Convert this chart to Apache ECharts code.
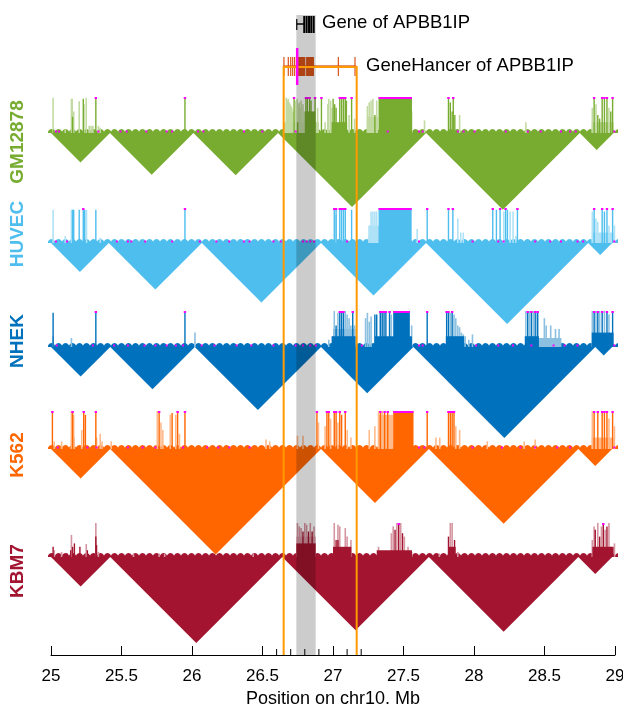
<!DOCTYPE html>
<html><head><meta charset="utf-8">
<script src="https://cdn.jsdelivr.net/npm/echarts@6.0.0/dist/echarts.min.js"></script>
<style>html,body{margin:0;padding:0;background:#fff}#c{width:623px;height:704px}</style>
</head><body><div id="c"></div>
<script>
// ---------- DATA ----------
const xTicks = [25, 25.5, 26, 26.5, 27, 27.5, 28, 28.5, 29];
const minorTicks = [26.6, 26.7, 26.8, 26.9, 27.1, 27.2];
const axisTitle = 'Position on chr10. Mb';
const trackNames = ['GM12878', 'HUVEC', 'NHEK', 'K562', 'KBM7'];
const highlightGene = [26.74, 26.877];
const geneHancerBox = [26.65, 27.168];
const geneLabel = 'Gene of APBB1IP';
const geneHancerLabel = 'GeneHancer of APBB1IP';
const geneTicks = [26.743, 26.796, 26.813, 26.830, 26.846, 26.863];
const geneIntron = [26.743, 26.796];
const ghLine = [26.647, 27.165];
const ghTicks = [26.652, 26.683, 26.700, 26.714, 26.728, 27.038, 27.156];
const ghBlocks = [[26.743, 26.804], [26.809, 26.865]];
const ghMarker = [26.746];

// TADs [start, end] in Mb
const gmTADs = [[25.0, 25.418], [25.418, 26.01], [26.01, 26.61], [26.61, 27.66], [27.66, 28.75], [28.75, 28.99]];
const hvTADs = [[25.0, 25.41], [25.41, 26.07], [26.07, 26.915], [26.915, 27.66], [27.66, 28.81], [28.81, 28.98]];
const nkTADs = [[25.0, 25.42], [25.42, 26.02], [26.02, 26.915], [26.915, 27.57], [27.57, 28.86], [28.86, 28.98]];
const k5TADs = [[25.0, 25.42], [25.42, 26.915], [26.915, 27.68], [27.68, 28.74], [28.74, 28.98]];
const kbTADs = [[25.0, 25.42], [25.42, 26.64], [26.64, 27.68], [27.68, 28.74], [28.74, 28.98]];

// signal: [position Mb, relative height 0..1 (1 = clipped)]
const gmLight = [[25.015,0.98],[25.101,0.1],[25.145,0.95],[25.150,0.95],[25.161,0.6],[25.200,0.88],[25.234,0.8],[25.250,0.98],[25.271,0.2],[25.284,0.2],[25.297,0.2],[25.336,0.2],[25.349,0.15],
 [26.669,0.98],[26.676,0.9],[26.682,0.95],[26.690,0.85],[26.695,0.8],[26.702,0.75],[26.708,0.7],[26.716,0.6],[26.735,0.9],[26.745,0.95],[26.754,0.8],[26.761,0.85],[26.768,0.7],[26.774,0.9],[26.787,0.8],[26.795,0.6],[26.891,0.7],[26.944,0.3],[26.963,0.8],[26.970,0.95],[26.983,0.9],[26.993,0.7],[27.114,0.5],[27.153,0.4],
 [27.244,0.75],[27.257,0.85],[27.270,0.9],[27.283,0.95],[27.310,0.9],[27.558,0.6],[27.649,0.35],[27.898,0.5],[28.368,0.3],
 [28.839,0.7],[28.865,0.8],[28.957,0.7]];
const gmDark = [[25.020,0.1],[25.153,0.45],[25.229,0.95],[25.318,1],[25.950,1],
 [26.724,1],[26.750,0.3],[26.808,1],[26.818,1],[26.834,1],[26.844,0.9],[26.860,0.5],[26.873,1],[26.918,1],[27.001,0.95],[27.012,0.8],[27.022,0.7],[27.048,1],[27.061,1],[27.074,1],[27.087,1],[27.095,0.9],[27.132,1],[27.297,0.5],
 [27.819,1],[27.832,0.85],[27.845,0.6],[27.853,1],[27.864,0.5],
 [28.852,1],[28.878,0.5],[28.891,0.4],[28.909,1],[28.925,1],[28.943,1],[28.970,0.6],[28.983,1]];
const gmDarkBlocks = [[26.80,26.875,0.6],[26.99,27.10,0.3],[27.323,27.56,1]];
const gmLightBlocks = [[26.651,26.90,0.3],[27.24,27.32,0.45],[28.835,28.99,0.3]];
const gmMarks = [25.035,25.056,25.336,25.493,25.537,25.676,25.820,25.859,26.042,26.081,26.369,26.499,26.735,27.388,27.610,27.636,27.885,27.926,28.004,28.225,28.382,28.473,28.617,28.682,28.721,28.995];

const hvLight = [[25.015,0.95],[25.101,0.2],[25.145,0.95],[25.252,0.95],[25.349,0.15],[27.022,0.8],[27.257,0.2],[27.270,0.9],[27.283,0.9],[27.297,0.9],[27.310,0.9],[27.597,0.4],[27.885,0.7],[27.906,0.3],[27.924,0.3],[28.211,0.9],[28.256,0.9],[28.277,0.9],[28.297,0.2],[28.839,0.9],[28.865,0.7],[28.878,0.6],[28.957,0.5],[28.996,0.5]];
const hvDark = [[25.153,0.95],[25.161,0.95],[25.200,0.95],[25.229,1],[25.239,0.95],[25.318,0.95],[25.950,1],[27.009,1],[27.022,1],[27.048,1],[27.061,1],[27.074,1],[27.087,1],[27.132,0.95],[27.668,1],[27.819,1],[27.850,1],[28.133,1],[28.159,0.95],[28.185,1],[28.224,1],[28.237,0.95],[28.308,1],[28.852,1],[28.909,1],[28.925,0.9],[28.943,1],[28.983,1]];
const hvDarkBlocks = [[27.323,27.558,1]];
const hvLightBlocks = [[27.25,27.33,0.5],[28.835,28.99,0.3]];
const hvMarks = [25.035,25.114,25.467,25.545,25.57,25.668,25.859,26.055,26.173,26.264,26.368,26.408,26.578,26.63,26.787,26.813,26.839,26.865,27.1,27.61,27.99,28.172,28.21,28.434,28.54,28.617,28.734,28.774,28.995];

const nkDark = [[25.015,0.95],[25.318,1],[25.950,1],[27.022,0.6],[27.048,1],[27.061,1],[27.074,1],[27.140,1],[27.297,0.9],[27.310,0.9],[27.336,1],[27.349,1],[27.362,1],[27.375,1],[27.401,1],[27.668,1],[27.806,1],[27.819,1],[27.845,1],[28.381,1],[28.407,1],[28.434,1],[28.452,1],[28.852,1],[28.878,1],[28.909,1],[28.943,1],[28.983,1]];
const nkLight = [[25.015,0.3],[25.145,0.25],[26.021,0.4],[26.970,0.2],[27.009,1],[27.035,0.95],[27.087,1],[27.100,0.9],[27.114,0.8],[27.127,0.6],[27.153,0.6],[27.231,0.8],[27.244,0.95],[27.257,0.7],[27.270,0.85],[27.336,1],[27.414,0.9],[27.558,0.6],[27.832,0.95],[27.858,0.9],[27.871,0.8],[27.885,0.6],[27.898,0.55],[27.911,0.4],[27.924,0.35],[27.937,0.3],[27.963,0.2],[27.989,0.35],[28.368,1],[28.394,1],[28.420,1],[28.446,1],[28.499,0.8],[28.512,0.6],[28.544,0.6],[28.578,0.5],[28.603,0.5],[28.839,1],[28.865,1],[28.891,1],[28.925,1],[28.957,0.9]];
const nkDarkBlocks = [[26.99,27.16,0.3],[27.297,27.56,0.3],[27.427,27.545,1],[27.80,27.93,0.3],[28.36,28.46,0.3],[28.835,28.99,0.4]];
const nkLightBlocks = [[27.0,27.16,0.5],[28.45,28.62,0.25]];
const nkMarks = [25.041,25.297,25.448,25.545,25.663,25.741,25.820,25.885,25.937,26.068,26.159,26.316,26.421,26.578,26.735,26.787,26.839,26.878,27.205,27.610,27.636,28.015,28.172,28.277,28.407,28.564,28.643,28.734,28.995];

const k5Dark = [[25.010,1],[25.153,1],[25.232,1],[25.244,0.9],[25.318,1],[25.767,1],[25.859,0.95],[25.898,1],[25.950,1],[26.886,1],[26.957,1],[26.970,1],[27.009,1],[27.022,1],[27.048,1],[27.061,0.9],[27.087,1],[27.336,1],[27.366,1],[27.388,1],[27.668,1],[27.819,1],[27.832,1],[27.845,1],[27.858,1],[28.852,1],[28.878,1],[28.909,1],[28.925,1],[28.943,1],[28.983,1]];
const k5Light = [[25.023,0.2],[25.075,0.2],[25.145,1],[25.161,0.9],[25.218,0.5],[25.323,0.3],[25.349,0.4],[25.362,0.2],[25.427,0.2],[25.754,1],[25.780,0.7],[25.793,0.5],[25.846,0.9],[25.885,0.9],[25.911,0.4],[26.525,0.25],[26.551,0.2],[26.748,0.35],[26.787,0.35],[26.897,0.7],[26.944,0.6],[26.983,0.8],[27.035,0.7],[27.101,0.5],[27.127,0.3],[27.257,0.5],[27.297,0.6],[27.323,1],[27.349,1],[27.362,0.9],[27.730,0.3],[27.757,0.3],[27.871,0.6],[27.898,0.5],[28.094,0.2],[28.356,0.2],[28.434,0.25],[28.839,1],[28.957,0.8],[28.996,0.6]];
const k5DarkBlocks = [[27.427,27.571,1]];
const k5LightBlocks = [[27.32,27.43,0.9],[28.835,28.99,0.3],[25.14,25.17,0.3]];
const k5Marks = [25.048,25.258,25.323,25.545,25.650,25.741,25.937,26.107,26.186,26.264,26.408,27.610,27.649,27.989,28.198,28.329,28.434,28.590,28.682,28.995];

const kbDark = [[25.015,0.3],[25.114,0.1],[25.140,0.2],[25.153,0.3],[25.166,0.4],[25.205,0.3],[25.258,0.2],[25.318,0.6],[25.323,0.35],[26.787,0.75],[26.826,0.75],[26.852,0.75],[27.022,0.5],[27.035,0.5],[27.440,0.8],[27.466,1],[27.493,0.7],[27.819,0.6],[27.862,0.5],[28.860,0.8],[28.891,0.6],[28.917,1],[28.943,0.9],[28.970,0.3]];
const kbLight = [[25.023,0.2],[25.075,0.15],[25.145,0.65],[25.250,0.38],[25.318,1],[25.336,0.15],[25.585,0.1],[25.767,0.1],[25.806,0.1],[26.434,0.1],[26.748,1],[26.761,0.9],[26.774,0.85],[26.800,1],[26.813,0.95],[26.839,1],[26.865,0.9],[27.009,1],[27.035,0.95],[27.048,0.9],[27.087,0.85],[27.100,0.6],[27.127,0.5],[27.323,0.3],[27.414,0.7],[27.427,0.9],[27.453,1],[27.480,1],[27.506,0.6],[27.532,0.3],[27.558,0.15],[27.754,0.1],[27.832,1],[27.845,1],[27.885,0.15],[28.839,0.5],[28.852,0.9],[28.878,1],[28.904,0.9],[28.930,0.8],[28.957,1],[28.996,0.4]];
const kbDarkBlocks = [[26.74,26.877,0.4],[27.0,27.13,0.3],[27.31,27.56,0.2],[27.819,27.87,0.3],[28.84,28.99,0.3]];
const kbLightBlocks = [[26.74,26.877,0.6]];
const kbMarks = [];

// ---------- LAYOUT / STYLE ----------
const COLORS = ['#77AC30', '#4DBEEE', '#0072BD', '#FF6600', '#A2142F'];
const LAYOUT = [{base:133,h:36},{base:243,h:35},{base:347,h:36},{base:449,h:38},{base:557,h:34}];
const LABEL_Y = [142, 234, 341, 455, 571];
const AXIS_Y = 655, TOP_Y = 15;
const GENE_Y = 24, GENE_TOP = 16, GENE_BOT = 33;
const GH_Y = 66, GH_TOP = 57, GH_BOT = 76, ORANGE_TOP = 67;
const FONT = '"Liberation Sans", Arial, Helvetica, sans-serif';

const tracks = [
  {tads:gmTADs, dark:gmDark, light:gmLight, darkBlocks:gmDarkBlocks, lightBlocks:gmLightBlocks, marks:gmMarks},
  {tads:hvTADs, dark:hvDark, light:hvLight, darkBlocks:hvDarkBlocks, lightBlocks:hvLightBlocks, marks:hvMarks},
  {tads:nkTADs, dark:nkDark, light:nkLight, darkBlocks:nkDarkBlocks, lightBlocks:nkLightBlocks, marks:nkMarks},
  {tads:k5TADs, dark:k5Dark, light:k5Light, darkBlocks:k5DarkBlocks, lightBlocks:k5LightBlocks, marks:k5Marks},
  {tads:kbTADs, dark:kbDark, light:kbLight, darkBlocks:kbDarkBlocks, lightBlocks:kbLightBlocks, marks:kbMarks}
];

function tint(hex, a) {
  const n = parseInt(hex.slice(1), 16);
  const r = (n >> 16) & 255, g = (n >> 8) & 255, b = n & 255;
  const m = v => Math.round(255 - a * (255 - v));
  return 'rgb(' + m(r) + ',' + m(g) + ',' + m(b) + ')';
}
function scallopCanvas(color) {
  const c = document.createElement('canvas'); c.width = 7; c.height = 5;
  const g = c.getContext('2d'); g.fillStyle = color;
  g.beginPath(); g.moveTo(0, 5); g.lineTo(0, 3.2);
  g.quadraticCurveTo(3.5, -1.2, 7, 3.2); g.lineTo(7, 5); g.closePath(); g.fill();
  return c;
}

const grids = [{left:51, right:8, top:TOP_Y, bottom:704 - AXIS_Y, outerBoundsMode:'none', containLabel:false}];
const xAxes = [{
  type:'value', gridIndex:0, min:xTicks[0], max:xTicks[xTicks.length-1], interval:0.5,
  axisLine:{show:true, lineStyle:{color:'#000', width:1}},
  axisTick:{show:true, inside:true, length:9, lineStyle:{color:'#000', width:1}},
  axisLabel:{show:true, color:'#000', fontSize:17, fontFamily:FONT, margin:13},
  splitLine:{show:false},
  name:axisTitle, nameLocation:'middle', nameGap:27,
  nameTextStyle:{color:'#000', fontSize:18, fontFamily:FONT}
}];
const yAxes = [{type:'value', gridIndex:0, min:0, max:1, show:false}];
const series = [];

tracks.forEach((t, i) => {
  const L = LAYOUT[i], gi = i + 1, col = COLORS[i], light = tint(col, 0.45);
  grids.push({left:51, right:8, top:L.base - L.h, height:L.h, outerBoundsMode:'none', containLabel:false});
  xAxes.push({type:'value', gridIndex:gi, min:xTicks[0], max:xTicks[xTicks.length-1], show:false});
  yAxes.push({type:'value', gridIndex:gi, min:0, max:1, show:false});
  const common = {type:'custom', xAxisIndex:gi, yAxisIndex:gi, clip:false, silent:true};
  series.push(Object.assign({}, common, {z:2, data:t.tads, renderItem:(p, api) => {
    const a = api.coord([api.value(0), 0]), b = api.coord([api.value(1), 0]);
    const d = (b[0] - a[0]) / 2;
    return {type:'polygon', shape:{points:[[a[0], a[1]], [b[0], b[1]], [a[0] + d, a[1] + d]]}, style:{fill:col}};
  }}));
  const pat = scallopCanvas(col);
  series.push(Object.assign({}, common, {z:3, data:[[xTicks[0], xTicks[xTicks.length-1]]], renderItem:(p, api) => {
    const a = api.coord([api.value(0), 0]), b = api.coord([api.value(1), 0]);
    return {type:'rect', shape:{x:a[0] - 3, y:a[1] - 5, width:b[0] - a[0] + 6, height:5},
      style:{fill:{image:pat, repeat:'repeat', x:a[0] - 3, y:a[1] - 5}}};
  }}));
  const blockRender = (fill) => (p, api) => {
    const a = api.coord([api.value(0), 0]), b = api.coord([api.value(1), Math.min(api.value(2), 1)]);
    return {type:'rect', shape:{x:a[0], y:b[1], width:Math.max(1, b[0] - a[0]), height:a[1] - b[1]}, style:{fill}};
  };
  const spikeRender = (fill, w) => (p, api) => {
    const a = api.coord([api.value(0), 0]), b = api.coord([api.value(0), Math.min(api.value(1), 1)]);
    return {type:'rect', shape:{x:a[0] - w / 2, y:b[1], width:w, height:a[1] - b[1]}, style:{fill}};
  };
  series.push(Object.assign({}, common, {z:3, data:t.lightBlocks, renderItem:blockRender(light)}));
  series.push(Object.assign({}, common, {z:3, data:t.light, renderItem:spikeRender(light, 1.6)}));
  series.push(Object.assign({}, common, {z:4, data:t.darkBlocks, renderItem:blockRender(col)}));
  series.push(Object.assign({}, common, {z:4, data:t.dark, renderItem:spikeRender(col, 1.4)}));
  series.push(Object.assign({}, common, {z:5, data:t.dark.filter(d => d[1] >= 1), renderItem:(p, api) => {
    const b = api.coord([api.value(0), 1]);
    return {type:'rect', shape:{x:b[0] - 1.2, y:b[1], width:2.4, height:2}, style:{fill:'#FF00FF'}};
  }}));
  series.push(Object.assign({}, common, {z:5, data:t.darkBlocks.filter(d => d[2] >= 1), renderItem:(p, api) => {
    const a = api.coord([api.value(0), 1]), b = api.coord([api.value(1), 1]);
    return {type:'rect', shape:{x:a[0], y:a[1], width:b[0] - a[0], height:2}, style:{fill:'#FF00FF'}};
  }}));
  series.push(Object.assign({}, common, {z:5, data:t.marks.map(v => [v]), renderItem:(p, api) => {
    const a = api.coord([api.value(0), 0]);
    return {type:'rect', shape:{x:a[0] - 1, y:a[1] - 2.5, width:2, height:2}, style:{fill:'#FF00FF'}};
  }}));
});

const main = {type:'custom', xAxisIndex:0, yAxisIndex:0, clip:false, silent:true};
series.push(Object.assign({}, main, {z:8, data:[ghLine], renderItem:(p, api) => {
  const a = api.coord([api.value(0), 0]), b = api.coord([api.value(1), 0]);
  return {type:'line', shape:{x1:a[0], y1:GH_Y, x2:b[0], y2:GH_Y}, style:{stroke:'#E06A36', lineWidth:1.5}};
}}));
series.push(Object.assign({}, main, {z:8, data:ghTicks.map(v => [v]), renderItem:(p, api) => {
  const a = api.coord([api.value(0), 0]);
  return {type:'line', shape:{x1:a[0], y1:GH_TOP, x2:a[0], y2:GH_BOT}, style:{stroke:'#D95319', lineWidth:1.2}};
}}));
series.push(Object.assign({}, main, {z:8, data:ghBlocks, renderItem:(p, api) => {
  const a = api.coord([api.value(0), 0]), b = api.coord([api.value(1), 0]);
  return {type:'rect', shape:{x:a[0], y:GH_TOP, width:b[0] - a[0], height:GH_BOT - GH_TOP}, style:{fill:'#D95319'}};
}}));
series.push(Object.assign({}, main, {z:10, data:[highlightGene], renderItem:(p, api) => {
  const a = api.coord([api.value(0), 0]), b = api.coord([api.value(1), 0]);
  return {type:'rect', shape:{x:a[0], y:TOP_Y, width:b[0] - a[0], height:a[1] - TOP_Y}, style:{fill:'rgba(0,0,0,0.2)'}};
}}));
series.push(Object.assign({}, main, {z:11, data:[geneHancerBox], renderItem:(p, api) => {
  const a = api.coord([api.value(0), 0]), b = api.coord([api.value(1), 0]);
  return {type:'polyline', shape:{points:[[a[0], a[1]], [a[0], ORANGE_TOP], [b[0], ORANGE_TOP], [b[0], b[1]]]},
    style:{stroke:'#FF9900', lineWidth:2, fill:null}};
}}));
series.push(Object.assign({}, main, {z:12, data:ghMarker.map(v => [v]), renderItem:(p, api) => {
  const a = api.coord([api.value(0), 0]);
  return {type:'line', shape:{x1:a[0], y1:48, x2:a[0], y2:85}, style:{stroke:'#FF00FF', lineWidth:2.5}};
}}));
series.push(Object.assign({}, main, {z:12, data:[geneIntron], renderItem:(p, api) => {
  const a = api.coord([api.value(0), 0]), b = api.coord([api.value(1), 0]);
  return {type:'line', shape:{x1:a[0], y1:GENE_Y, x2:b[0], y2:GENE_Y}, style:{stroke:'#000', lineWidth:1.5}};
}}));
series.push(Object.assign({}, main, {z:12, data:geneTicks.map(v => [v]), renderItem:(p, api) => {
  const a = api.coord([api.value(0), 0]);
  const first = p.dataIndex === 0;
  return {type:'line', shape:{x1:a[0], y1:first ? GENE_TOP + 3 : GENE_TOP, x2:a[0], y2:first ? GENE_BOT - 3 : GENE_BOT},
    style:{stroke:'#000', lineWidth:first ? 1.2 : 2}};
}}));
series.push(Object.assign({}, main, {z:12, data:minorTicks.map(v => [v]), renderItem:(p, api) => {
  const a = api.coord([api.value(0), 0]);
  return {type:'line', shape:{x1:a[0], y1:a[1], x2:a[0], y2:a[1] - 6}, style:{stroke:'#000', lineWidth:1}};
}}));

const graphic = [
  {type:'text', left:322, top:GENE_Y - 11, z:20, style:{text:geneLabel, fill:'#000', font:'18.5px ' + FONT}},
  {type:'text', left:366, top:GH_Y - 10, z:20, style:{text:geneHancerLabel, fill:'#000', font:'18.5px ' + FONT}}
];
trackNames.forEach((n, i) => {
  graphic.push({type:'text', x:18, y:LABEL_Y[i], rotation:Math.PI / 2, z:20,
    style:{text:n, fill:COLORS[i], font:'bold 19px ' + FONT, align:'center', verticalAlign:'middle'}});
});

const chart = echarts.init(document.getElementById('c'), null, {renderer:'canvas'});
chart.setOption({animation:false, grid:grids, xAxis:xAxes, yAxis:yAxes, series, graphic});
</script>
</body></html>
